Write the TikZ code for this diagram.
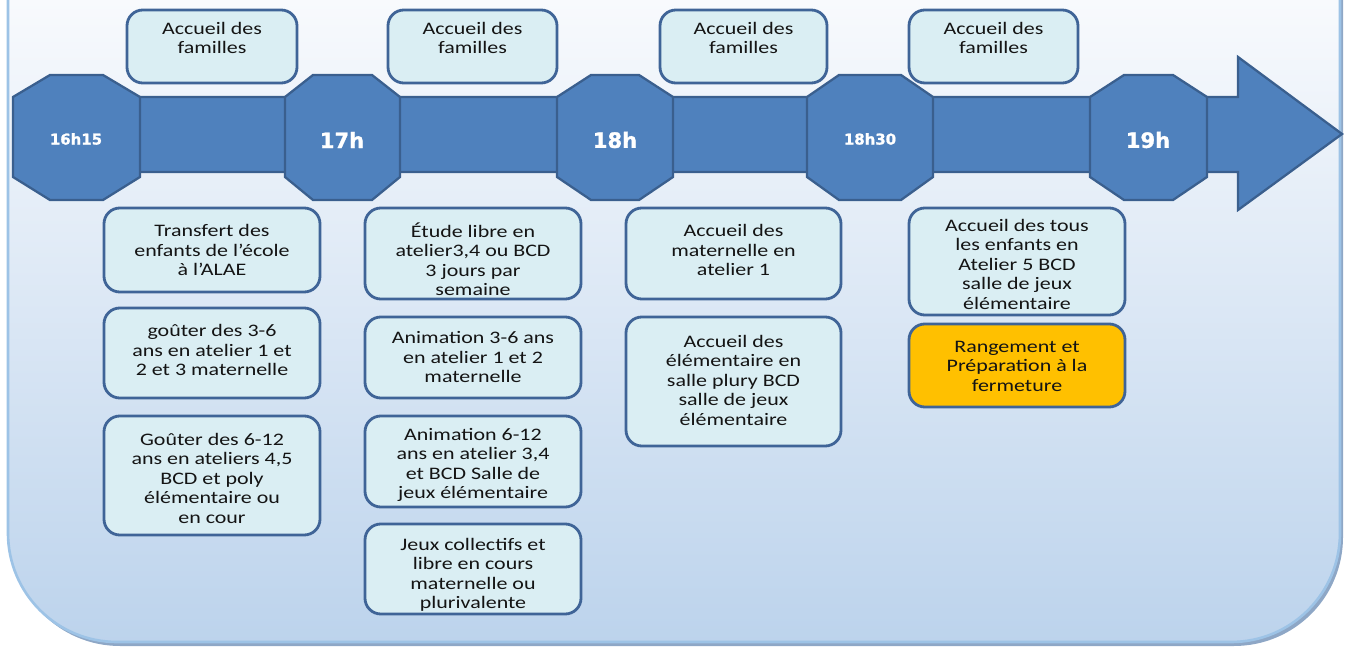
\documentclass[tikz,border=0pt]{standalone}
\usepackage{fontspec}
\setmainfont{Carlito}[FakeStretch=1.25]
\newfontfamily\timefont{DejaVu Sans}[BoldFeatures={FakeBold=1.2}]
\definecolor{barfill}{HTML}{4F81BD}
\definecolor{barline}{HTML}{3A5F8E}
\definecolor{boxfill}{HTML}{DAEEF3}
\definecolor{boxline}{HTML}{3F6497}
\definecolor{orangefill}{HTML}{FFC000}
\definecolor{bgtop}{HTML}{F8FAFD}
\definecolor{bgbot}{HTML}{BCD3EC}
\definecolor{bgline}{HTML}{9DC3E6}
\definecolor{shadowc}{HTML}{8EA7C6}
\newcommand\tbox[8]{%
  \node[boxstyle,#8,minimum width={(#4-#2)*0.02cm},minimum height={(#5-#3)*0.02cm}] (#1) at ({(#2+#4)/2},{(#3+#5)/2}) {};
  \node[txt] (#1-t) at ({(#2+#4)/2},#6) {#7};}
\newcommand\octagon[3]{%
  \path[octa] (#1+#3,75) -- (#2-#3,75) -- (#2,97) -- (#2,177) -- (#2-#3,200) -- (#1+#3,200) -- (#1,177) -- (#1,97) -- cycle;}
\begin{document}
\begin{tikzpicture}[x=0.02cm,y=-0.02cm,
  boxstyle/.style={draw=boxline, fill=boxfill, line width=1.6pt, rounded corners=9pt, inner sep=0pt},
  txt/.style={align=center, font=\fontsize{10}{11.1}\selectfont, text=black!92, inner sep=0pt},
  timelbl/.style={text=white, font=\timefont\bfseries\fontsize{12}{12}\selectfont, inner sep=0pt},
  timesmall/.style={text=white, font=\timefont\bfseries\fontsize{8.5}{8.5}\selectfont, inner sep=0pt},
  octa/.style={draw=barline, fill=barfill, line width=1.3pt, line join=miter},
]
\clip (0,0) rectangle (1345,648);
% background panel
\fill[shadowc, rounded corners=62pt] (11,-200) rectangle (1343,646);
\begin{scope}
\clip[rounded corners=62pt] (8,-200) rectangle (1340,642);
\shade[top color=bgtop, bottom color=bgbot] (0,0) rectangle (1345,645);
\end{scope}
\draw[bgline, line width=1.5pt, rounded corners=62pt] (8,-200) rectangle (1340,642);
% timeline arrow
\path[octa] (16,97) -- (1238,97) -- (1238,57) -- (1342,134) -- (1238,210) -- (1238,172) -- (16,172) -- cycle;
\octagon{13}{140}{37}
\octagon{285}{400}{28}
\octagon{557}{673}{34}
\octagon{807}{933}{32}
\octagon{1090}{1207}{34}
\node[timesmall] (t1615) at (76,139) {16h15};
\node[timelbl] (t17) at (342,140) {17h};
\node[timelbl] (t18) at (615,140) {18h};
\node[timesmall] (t1830) at (870,139) {18h30};
\node[timelbl] (t19) at (1148,140) {19h};
% top boxes
\tbox{f1}{127}{10}{297}{83}{38}{Accueil des\\familles}{}
\tbox{f2}{388}{10}{557}{83}{38}{Accueil des\\familles}{}
\tbox{f3}{660}{10}{827}{83}{38}{Accueil des\\familles}{}
\tbox{f4}{909}{10}{1078}{83}{38}{Accueil des\\familles}{}
% column 1
\tbox{b11}{104}{208}{320}{292}{250}{Transfert des\\enfants de l’école\\à l’ALAE}{}
\tbox{b12}{104}{308}{320}{398}{350}{goûter des 3-6\\ans en atelier 1 et\\2 et 3 maternelle}{}
\tbox{b13}{104}{416}{320}{535}{478}{Goûter des 6-12\\ans en ateliers 4,5\\BCD et poly\\élémentaire ou\\en cour}{}
% column 2
\tbox{b21}{365}{208}{581}{299}{259}{Étude libre en\\atelier3,4 ou BCD\\3 jours par\\semaine}{}
\tbox{b22}{365}{317}{581}{398}{357}{Animation 3-6 ans\\en atelier 1 et 2\\maternelle}{}
\tbox{b23}{365}{416}{581}{507}{465}{Animation 6-12\\ans en atelier 3,4\\et BCD Salle de\\jeux élémentaire}{}
\tbox{b24}{365}{524}{581}{614}{575}{Jeux collectifs et\\libre en cours\\maternelle ou\\plurivalente}{}
% column 3
\tbox{b31}{626}{208}{841}{299}{250}{Accueil des\\maternelle en\\atelier 1}{}
\tbox{b32}{626}{317}{841}{446}{380}{Accueil des\\élémentaire en\\salle plury BCD\\salle de jeux\\élémentaire}{}
% column 4
\tbox{b41}{909}{208}{1125}{315}{264}{Accueil des tous\\les enfants en\\Atelier 5 BCD\\salle de jeux\\élémentaire}{}
\tbox{b42}{909}{324}{1125}{407}{366}{Rangement et\\Préparation à la\\fermeture}{fill=orangefill}
\end{tikzpicture}
\end{document}
